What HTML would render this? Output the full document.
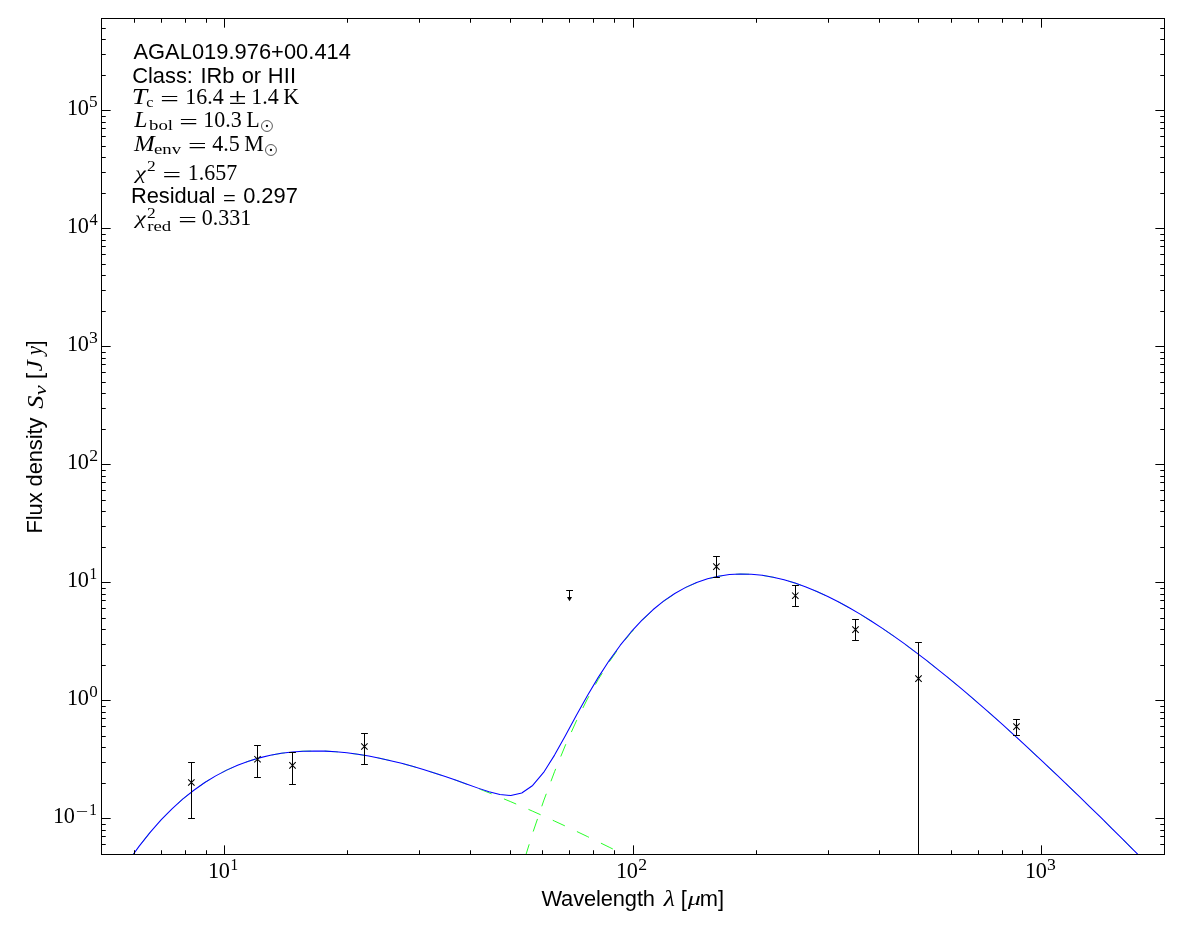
<!DOCTYPE html>
<html lang="en"><head><meta charset="utf-8"><title>AGAL019.976+00.414 SED</title>
<style>
html,body{margin:0;padding:0;background:#fff}
body{width:1200px;height:933px;overflow:hidden}
svg{display:block;will-change:transform}
text{white-space:pre}
.s{font-family:"Liberation Sans",sans-serif}
.r{font-family:"Liberation Serif",serif}
.i{font-family:"Liberation Serif",serif;font-style:italic}
</style></head><body>
<svg width="1200" height="933" viewBox="0 0 1200 933">
<rect width="1200" height="933" fill="#fff"/>
<defs><clipPath id="ax"><rect x="102" y="19" width="1062.5" height="835.5"/></clipPath></defs>
<g clip-path="url(#ax)" fill="none">
<path d="M106.42 896.62L117.35 878.14L128.28 861.34L139.21 846.09L150.14 832.32L161.07 819.93L172.00 808.84L182.93 798.96L193.86 790.22L204.79 782.55L215.72 775.87L226.65 770.13L237.58 765.25L248.51 761.19L259.44 757.88L270.37 755.27L281.30 753.31L292.23 751.96L303.16 751.17L314.09 750.90L325.02 751.11L335.95 751.77L346.88 752.84L357.81 754.29L368.74 756.09L379.67 758.22L390.60 760.65L401.53 763.35L412.46 766.31L423.39 769.51L434.32 772.93L445.25 776.55L456.18 780.36L467.11 784.34L478.04 788.48L488.97 792.78L499.90 797.20L510.83 801.76L521.76 806.43L532.69 811.22L543.62 816.10L554.55 821.08L565.48 826.15L576.41 831.30L587.34 836.53L598.27 841.83L609.20 847.19L620.13 852.61L631.06 858.10L641.99 863.63L652.92 869.22L663.85 874.85L674.78 880.52L685.71 886.24L696.64 891.99L707.57 897.78L718.50 903.60L729.43 909.45L740.36 915.33L751.29 921.24L762.22 927.17L773.15 933.13L784.08 939.11L795.01 945.11L805.94 951.13L816.87 957.17L827.80 963.22L838.73 969.29L849.66 975.38L860.59 981.48L871.52 987.59L882.45 993.72L893.38 999.85L904.31 1006.00L915.24 1012.16L926.17 1018.33L937.10 1024.50L948.03 1030.69L958.96 1036.88L969.89 1043.08L980.82 1049.29L991.75 1055.50L1002.68 1061.72L1013.61 1067.95L1024.54 1074.18L1035.47 1080.42L1046.40 1086.66L1057.33 1092.90L1068.26 1099.15" stroke="#00ff00" stroke-width="0.85" stroke-dasharray="13.3 13.35" stroke-dashoffset="15.16"/>
<path d="M467.11 1095.56L478.04 1042.39L488.97 993.31L499.90 948.05L510.83 906.39L521.76 868.12L532.69 833.04L543.62 800.94L554.55 771.67L565.48 745.03L576.41 720.89L587.34 699.09L598.27 679.48L609.20 661.95L620.13 646.35L631.06 632.59L641.99 620.54L652.92 610.11L663.85 601.19L674.78 593.69L685.71 587.53L696.64 582.62L707.57 578.89L718.50 576.26L729.43 574.65L740.36 574.01L751.29 574.26L762.22 575.36L773.15 577.23L784.08 579.83L795.01 583.10L805.94 587.00L816.87 591.49L827.80 596.51L838.73 602.03L849.66 608.01L860.59 614.43L871.52 621.23L882.45 628.40L893.38 635.91L904.31 643.73L915.24 651.84L926.17 660.22L937.10 668.84L948.03 677.69L958.96 686.74L969.89 696.00L980.82 705.43L991.75 715.03L1002.68 724.78L1013.61 734.68L1024.54 744.71L1035.47 754.86L1046.40 765.12L1057.33 775.49L1068.26 785.96L1079.19 796.52L1090.12 807.16L1101.05 817.88L1111.98 828.68L1122.91 839.54L1133.84 850.47L1144.77 861.45L1155.70 872.50L1166.63 883.59L1177.56 894.73L1188.49 905.91L1199.42 917.14" stroke="#00ff00" stroke-width="0.85" stroke-dasharray="13.3 13.35" stroke-dashoffset="20.82"/>
<path d="M106.42 896.62L117.35 878.14L128.28 861.34L139.21 846.09L150.14 832.32L161.07 819.93L172.00 808.84L182.93 798.96L193.86 790.22L204.79 782.55L215.72 775.87L226.65 770.13L237.58 765.25L248.51 761.19L259.44 757.88L270.37 755.27L281.30 753.31L292.23 751.96L303.16 751.17L314.09 750.90L325.02 751.11L335.95 751.77L346.88 752.84L357.81 754.29L368.74 756.09L379.67 758.22L390.60 760.65L401.53 763.35L412.46 766.31L423.39 769.51L434.32 772.93L445.25 776.54L456.18 780.33L467.11 784.22L478.04 788.12L488.97 791.76L499.90 794.57L510.83 795.51L521.76 792.99L532.69 785.45L543.62 772.44L554.55 755.11L565.48 735.46L576.41 715.27L587.34 695.69L598.27 677.37L609.20 660.58L620.13 645.45L631.06 631.96L641.99 620.10L652.92 609.78L663.85 600.94L674.78 593.50L685.71 587.38L696.64 582.50L707.57 578.79L718.50 576.17L729.43 574.58L740.36 573.94L751.29 574.21L762.22 575.30L773.15 577.18L784.08 579.78L795.01 583.06L805.94 586.96L816.87 591.45L827.80 596.47L838.73 601.99L849.66 607.97L860.59 614.39L871.52 621.19L882.45 628.36L893.38 635.87L904.31 643.69L915.24 651.80L926.17 660.17L937.10 668.79L948.03 677.63L958.96 686.69L969.89 695.94L980.82 705.37L991.75 714.96L1002.68 724.71L1013.61 734.60L1024.54 744.62L1035.47 754.77L1046.40 765.02L1057.33 775.39L1068.26 785.84L1079.19 796.39L1090.12 807.03L1101.05 817.74L1111.98 828.52L1122.91 839.37L1133.84 850.28L1144.77 861.24L1155.70 872.27L1166.63 883.34L1177.56 894.45L1188.49 905.61L1199.42 916.80" stroke="#ffffff" stroke-width="0.7" stroke-linejoin="round"/>
<path d="M106.42 896.62L117.35 878.14L128.28 861.34L139.21 846.09L150.14 832.32L161.07 819.93L172.00 808.84L182.93 798.96L193.86 790.22L204.79 782.55L215.72 775.87L226.65 770.13L237.58 765.25L248.51 761.19L259.44 757.88L270.37 755.27L281.30 753.31L292.23 751.96L303.16 751.17L314.09 750.90L325.02 751.11L335.95 751.77L346.88 752.84L357.81 754.29L368.74 756.09L379.67 758.22L390.60 760.65L401.53 763.35L412.46 766.31L423.39 769.51L434.32 772.93L445.25 776.54L456.18 780.33L467.11 784.22L478.04 788.12L488.97 791.76L499.90 794.57L510.83 795.51L521.76 792.99L532.69 785.45L543.62 772.44L554.55 755.11L565.48 735.46L576.41 715.27L587.34 695.69L598.27 677.37L609.20 660.58L620.13 645.45L631.06 631.96L641.99 620.10L652.92 609.78L663.85 600.94L674.78 593.50L685.71 587.38L696.64 582.50L707.57 578.79L718.50 576.17L729.43 574.58L740.36 573.94L751.29 574.21L762.22 575.30L773.15 577.18L784.08 579.78L795.01 583.06L805.94 586.96L816.87 591.45L827.80 596.47L838.73 601.99L849.66 607.97L860.59 614.39L871.52 621.19L882.45 628.36L893.38 635.87L904.31 643.69L915.24 651.80L926.17 660.17L937.10 668.79L948.03 677.63L958.96 686.69L969.89 695.94L980.82 705.37L991.75 714.96L1002.68 724.71L1013.61 734.60L1024.54 744.62L1035.47 754.77L1046.40 765.02L1057.33 775.39L1068.26 785.84L1079.19 796.39L1090.12 807.03L1101.05 817.74L1111.98 828.52L1122.91 839.37L1133.84 850.28L1144.77 861.24L1155.70 872.27L1166.63 883.34L1177.56 894.45L1188.49 905.61L1199.42 916.80" stroke="#0000ff" stroke-width="1.05" stroke-linejoin="round"/>
</g>
<g stroke="#000" stroke-width="1" fill="none">
<path d="M191.5 762.5V818.5M188.1 762.5H194.9M188.1 818.5H194.9"/>
<path d="M188.15 779.30L194.55 785.70M188.15 785.70L194.55 779.30" stroke-width="1.05"/>
<path d="M257.5 745.5V777.5M254.1 745.5H260.9M254.1 777.5H260.9"/>
<path d="M254.30 756.00L260.70 762.40M254.30 762.40L260.70 756.00" stroke-width="1.05"/>
<path d="M292.5 752.5V784.5M289.1 752.5H295.9M289.1 784.5H295.9"/>
<path d="M289.30 762.15L295.70 768.55M289.30 768.55L295.70 762.15" stroke-width="1.05"/>
<path d="M364.5 733.5V764.5M361.1 733.5H367.9M361.1 764.5H367.9"/>
<path d="M361.20 743.30L367.60 749.70M361.20 749.70L367.60 743.30" stroke-width="1.05"/>
<path d="M716.5 556.5V577.5M713.1 556.5H719.9M713.1 577.5H719.9"/>
<path d="M713.20 563.40L719.60 569.80M713.20 569.80L719.60 563.40" stroke-width="1.05"/>
<path d="M795.5 585.5V606.5M792.1 585.5H798.9M792.1 606.5H798.9"/>
<path d="M792.10 592.50L798.50 598.90M792.10 598.90L798.50 592.50" stroke-width="1.05"/>
<path d="M855.5 619.5V640.5M852.1 619.5H858.9M852.1 640.5H858.9"/>
<path d="M852.30 626.40L858.70 632.80M852.30 632.80L858.70 626.40" stroke-width="1.05"/>
<path d="M918.5 642.5V854M915.1 642.5H921.9"/>
<path d="M915.30 675.40L921.70 681.80M915.30 681.80L921.70 675.40" stroke-width="1.05"/>
<path d="M1016.5 719.5V735.5M1013.1 719.5H1019.9M1013.1 735.5H1019.9"/>
<path d="M1013.30 723.40L1019.70 729.80M1013.30 729.80L1019.70 723.40" stroke-width="1.05"/>
<path d="M569.5 590.5V598M566.2 590.5H573"/>
<path d="M567 597H572L569.5 601.2Z" fill="#000" stroke="none"/>
</g>
<g fill="#000" shape-rendering="crispEdges">
<rect x="101" y="18" width="1064" height="1"/><rect x="101" y="854" width="1064" height="1"/><rect x="101" y="18" width="1" height="837"/><rect x="1164" y="18" width="1" height="837"/>
</g><g fill="#000">
<rect x="102" y="844" width="3.75" height="1"/><rect x="1160.25" y="844" width="3.75" height="1"/>
<rect x="102" y="836" width="3.75" height="1"/><rect x="1160.25" y="836" width="3.75" height="1"/>
<rect x="102" y="830" width="3.75" height="1"/><rect x="1160.25" y="830" width="3.75" height="1"/>
<rect x="102" y="824" width="3.75" height="1"/><rect x="1160.25" y="824" width="3.75" height="1"/>
<rect x="102" y="818" width="8.65" height="1"/><rect x="1155.35" y="818" width="8.65" height="1"/>
<rect x="102" y="783" width="3.75" height="1"/><rect x="1160.25" y="783" width="3.75" height="1"/>
<rect x="102" y="762" width="3.75" height="1"/><rect x="1160.25" y="762" width="3.75" height="1"/>
<rect x="102" y="747" width="3.75" height="1"/><rect x="1160.25" y="747" width="3.75" height="1"/>
<rect x="102" y="736" width="3.75" height="1"/><rect x="1160.25" y="736" width="3.75" height="1"/>
<rect x="102" y="726" width="3.75" height="1"/><rect x="1160.25" y="726" width="3.75" height="1"/>
<rect x="102" y="718" width="3.75" height="1"/><rect x="1160.25" y="718" width="3.75" height="1"/>
<rect x="102" y="712" width="3.75" height="1"/><rect x="1160.25" y="712" width="3.75" height="1"/>
<rect x="102" y="706" width="3.75" height="1"/><rect x="1160.25" y="706" width="3.75" height="1"/>
<rect x="102" y="700" width="8.65" height="1"/><rect x="1155.35" y="700" width="8.65" height="1"/>
<rect x="102" y="665" width="3.75" height="1"/><rect x="1160.25" y="665" width="3.75" height="1"/>
<rect x="102" y="644" width="3.75" height="1"/><rect x="1160.25" y="644" width="3.75" height="1"/>
<rect x="102" y="629" width="3.75" height="1"/><rect x="1160.25" y="629" width="3.75" height="1"/>
<rect x="102" y="618" width="3.75" height="1"/><rect x="1160.25" y="618" width="3.75" height="1"/>
<rect x="102" y="608" width="3.75" height="1"/><rect x="1160.25" y="608" width="3.75" height="1"/>
<rect x="102" y="600" width="3.75" height="1"/><rect x="1160.25" y="600" width="3.75" height="1"/>
<rect x="102" y="594" width="3.75" height="1"/><rect x="1160.25" y="594" width="3.75" height="1"/>
<rect x="102" y="588" width="3.75" height="1"/><rect x="1160.25" y="588" width="3.75" height="1"/>
<rect x="102" y="582" width="8.65" height="1"/><rect x="1155.35" y="582" width="8.65" height="1"/>
<rect x="102" y="547" width="3.75" height="1"/><rect x="1160.25" y="547" width="3.75" height="1"/>
<rect x="102" y="526" width="3.75" height="1"/><rect x="1160.25" y="526" width="3.75" height="1"/>
<rect x="102" y="511" width="3.75" height="1"/><rect x="1160.25" y="511" width="3.75" height="1"/>
<rect x="102" y="500" width="3.75" height="1"/><rect x="1160.25" y="500" width="3.75" height="1"/>
<rect x="102" y="490" width="3.75" height="1"/><rect x="1160.25" y="490" width="3.75" height="1"/>
<rect x="102" y="482" width="3.75" height="1"/><rect x="1160.25" y="482" width="3.75" height="1"/>
<rect x="102" y="476" width="3.75" height="1"/><rect x="1160.25" y="476" width="3.75" height="1"/>
<rect x="102" y="470" width="3.75" height="1"/><rect x="1160.25" y="470" width="3.75" height="1"/>
<rect x="102" y="464" width="8.65" height="1"/><rect x="1155.35" y="464" width="8.65" height="1"/>
<rect x="102" y="429" width="3.75" height="1"/><rect x="1160.25" y="429" width="3.75" height="1"/>
<rect x="102" y="408" width="3.75" height="1"/><rect x="1160.25" y="408" width="3.75" height="1"/>
<rect x="102" y="393" width="3.75" height="1"/><rect x="1160.25" y="393" width="3.75" height="1"/>
<rect x="102" y="382" width="3.75" height="1"/><rect x="1160.25" y="382" width="3.75" height="1"/>
<rect x="102" y="372" width="3.75" height="1"/><rect x="1160.25" y="372" width="3.75" height="1"/>
<rect x="102" y="364" width="3.75" height="1"/><rect x="1160.25" y="364" width="3.75" height="1"/>
<rect x="102" y="358" width="3.75" height="1"/><rect x="1160.25" y="358" width="3.75" height="1"/>
<rect x="102" y="352" width="3.75" height="1"/><rect x="1160.25" y="352" width="3.75" height="1"/>
<rect x="102" y="346" width="8.65" height="1"/><rect x="1155.35" y="346" width="8.65" height="1"/>
<rect x="102" y="311" width="3.75" height="1"/><rect x="1160.25" y="311" width="3.75" height="1"/>
<rect x="102" y="290" width="3.75" height="1"/><rect x="1160.25" y="290" width="3.75" height="1"/>
<rect x="102" y="275" width="3.75" height="1"/><rect x="1160.25" y="275" width="3.75" height="1"/>
<rect x="102" y="264" width="3.75" height="1"/><rect x="1160.25" y="264" width="3.75" height="1"/>
<rect x="102" y="254" width="3.75" height="1"/><rect x="1160.25" y="254" width="3.75" height="1"/>
<rect x="102" y="246" width="3.75" height="1"/><rect x="1160.25" y="246" width="3.75" height="1"/>
<rect x="102" y="240" width="3.75" height="1"/><rect x="1160.25" y="240" width="3.75" height="1"/>
<rect x="102" y="234" width="3.75" height="1"/><rect x="1160.25" y="234" width="3.75" height="1"/>
<rect x="102" y="228" width="8.65" height="1"/><rect x="1155.35" y="228" width="8.65" height="1"/>
<rect x="102" y="193" width="3.75" height="1"/><rect x="1160.25" y="193" width="3.75" height="1"/>
<rect x="102" y="172" width="3.75" height="1"/><rect x="1160.25" y="172" width="3.75" height="1"/>
<rect x="102" y="157" width="3.75" height="1"/><rect x="1160.25" y="157" width="3.75" height="1"/>
<rect x="102" y="146" width="3.75" height="1"/><rect x="1160.25" y="146" width="3.75" height="1"/>
<rect x="102" y="136" width="3.75" height="1"/><rect x="1160.25" y="136" width="3.75" height="1"/>
<rect x="102" y="128" width="3.75" height="1"/><rect x="1160.25" y="128" width="3.75" height="1"/>
<rect x="102" y="122" width="3.75" height="1"/><rect x="1160.25" y="122" width="3.75" height="1"/>
<rect x="102" y="116" width="3.75" height="1"/><rect x="1160.25" y="116" width="3.75" height="1"/>
<rect x="102" y="110" width="8.65" height="1"/><rect x="1155.35" y="110" width="8.65" height="1"/>
<rect x="102" y="75" width="3.75" height="1"/><rect x="1160.25" y="75" width="3.75" height="1"/>
<rect x="102" y="54" width="3.75" height="1"/><rect x="1160.25" y="54" width="3.75" height="1"/>
<rect x="102" y="39" width="3.75" height="1"/><rect x="1160.25" y="39" width="3.75" height="1"/>
<rect x="102" y="28" width="3.75" height="1"/><rect x="1160.25" y="28" width="3.75" height="1"/>
<rect x="134" y="850.25" width="1" height="3.75"/><rect x="134" y="19" width="1" height="3.75"/>
<rect x="161" y="850.25" width="1" height="3.75"/><rect x="161" y="19" width="1" height="3.75"/>
<rect x="185" y="850.25" width="1" height="3.75"/><rect x="185" y="19" width="1" height="3.75"/>
<rect x="206" y="850.25" width="1" height="3.75"/><rect x="206" y="19" width="1" height="3.75"/>
<rect x="224" y="845.35" width="1" height="8.65"/><rect x="224" y="19" width="1" height="8.65"/>
<rect x="347" y="850.25" width="1" height="3.75"/><rect x="347" y="19" width="1" height="3.75"/>
<rect x="419" y="850.25" width="1" height="3.75"/><rect x="419" y="19" width="1" height="3.75"/>
<rect x="470" y="850.25" width="1" height="3.75"/><rect x="470" y="19" width="1" height="3.75"/>
<rect x="510" y="850.25" width="1" height="3.75"/><rect x="510" y="19" width="1" height="3.75"/>
<rect x="542" y="850.25" width="1" height="3.75"/><rect x="542" y="19" width="1" height="3.75"/>
<rect x="569" y="850.25" width="1" height="3.75"/><rect x="569" y="19" width="1" height="3.75"/>
<rect x="593" y="850.25" width="1" height="3.75"/><rect x="593" y="19" width="1" height="3.75"/>
<rect x="614" y="850.25" width="1" height="3.75"/><rect x="614" y="19" width="1" height="3.75"/>
<rect x="633" y="845.35" width="1" height="8.65"/><rect x="633" y="19" width="1" height="8.65"/>
<rect x="756" y="850.25" width="1" height="3.75"/><rect x="756" y="19" width="1" height="3.75"/>
<rect x="828" y="850.25" width="1" height="3.75"/><rect x="828" y="19" width="1" height="3.75"/>
<rect x="879" y="850.25" width="1" height="3.75"/><rect x="879" y="19" width="1" height="3.75"/>
<rect x="918" y="850.25" width="1" height="3.75"/><rect x="918" y="19" width="1" height="3.75"/>
<rect x="951" y="850.25" width="1" height="3.75"/><rect x="951" y="19" width="1" height="3.75"/>
<rect x="978" y="850.25" width="1" height="3.75"/><rect x="978" y="19" width="1" height="3.75"/>
<rect x="1002" y="850.25" width="1" height="3.75"/><rect x="1002" y="19" width="1" height="3.75"/>
<rect x="1022" y="850.25" width="1" height="3.75"/><rect x="1022" y="19" width="1" height="3.75"/>
<rect x="1041" y="845.35" width="1" height="8.65"/><rect x="1041" y="19" width="1" height="8.65"/>
</g>
<g fill="#000">
<text class="r" font-size="22.3" x="52.99" y="822.90" letter-spacing="-0.5">10</text>
<text class="r" font-size="15.6" transform="translate(75.65,817.10) scale(1.412,1.000)">−</text>
<text class="r" font-size="15.6" transform="translate(89.35,815.10) scale(0.983,1.120)">1</text>
<text class="r" font-size="22.3" x="67.04" y="704.90" letter-spacing="-0.5">10</text>
<text class="r" font-size="15.6" transform="translate(89.30,697.10) scale(1.089,1.120)">0</text>
<text class="r" font-size="22.3" x="67.04" y="586.90" letter-spacing="-0.5">10</text>
<text class="r" font-size="15.6" transform="translate(89.50,579.10) scale(0.983,1.120)">1</text>
<text class="r" font-size="22.3" x="67.04" y="468.90" letter-spacing="-0.5">10</text>
<text class="r" font-size="15.6" transform="translate(89.22,461.10) scale(1.135,1.120)">2</text>
<text class="r" font-size="22.3" x="67.04" y="350.90" letter-spacing="-0.5">10</text>
<text class="r" font-size="15.6" transform="translate(89.05,343.10) scale(1.133,1.120)">3</text>
<text class="r" font-size="22.3" x="67.04" y="232.90" letter-spacing="-0.5">10</text>
<text class="r" font-size="15.6" transform="translate(89.43,225.10) scale(1.048,1.120)">4</text>
<text class="r" font-size="22.3" x="67.04" y="114.90" letter-spacing="-0.5">10</text>
<text class="r" font-size="15.6" transform="translate(89.07,107.10) scale(1.106,1.120)">5</text>
<text class="r" font-size="22.3" x="208.04" y="877.80" letter-spacing="-0.5">10</text>
<text class="r" font-size="15.6" transform="translate(230.52,870.00) scale(0.983,1.120)">1</text>
<text class="r" font-size="22.3" x="616.04" y="877.80" letter-spacing="-0.5">10</text>
<text class="r" font-size="15.6" transform="translate(638.24,870.00) scale(1.135,1.120)">2</text>
<text class="r" font-size="22.3" x="1025.04" y="877.80" letter-spacing="-0.5">10</text>
<text class="r" font-size="15.6" transform="translate(1047.07,870.00) scale(1.133,1.120)">3</text>
</g>
<g fill="#000">
<text class="s" font-size="21.875" x="541.40" y="905.80" letter-spacing="-0.11">Wavelength </text>
<text class="i" font-size="22.8" transform="translate(663.63,905.90) scale(1.135,1.000)">λ </text>
<text class="s" font-size="21.875" x="680.64" y="905.80">[</text>
<text class="i" font-size="19.8" transform="translate(687.63,905.10) scale(1.312,1.000)">μ</text>
<text class="s" font-size="21.875" x="699.75" y="905.80">m]</text>
<g transform="translate(41.7,531.8) rotate(-90)">
<text class="s" font-size="21.875" x="-1.79" y="0.00" letter-spacing="-0.05">Flux density </text>
<text class="i" font-size="23.4" transform="translate(123.09,1.40) scale(1.131,1.000)">S</text>
<text class="i" font-size="17" transform="translate(136.59,3.90) scale(1.313,1.000)">ν </text>
<text class="s" font-size="21.875" x="152.74" y="0.00">[</text>
<text class="i" font-size="23" transform="translate(160.21,0.60) scale(1.115,1.000)">J</text>
<text class="i" font-size="23" transform="translate(176.68,0.60) scale(0.873,1.000)">y</text>
<text class="s" font-size="21.875" x="185.28" y="0.00">]</text>
</g></g>
<g fill="#000">
<text class="s" font-size="21.875" x="133.46" y="59.00" letter-spacing="0.03">AGAL019.976+00.414</text>
<text class="s" font-size="21.875" x="132.19" y="82.80">Class: </text>
<text class="s" font-size="21.875" x="200.38" y="82.80">IRb </text>
<text class="s" font-size="21.875" x="241.68" y="82.80">or </text>
<text class="s" font-size="21.875" x="267.71" y="82.80" letter-spacing="0.25">HII</text>
<text class="i" font-size="22.0" transform="translate(131.80,104.10) scale(1.250,1.050)">T</text>
<text class="r" font-size="15.4" transform="translate(146.28,106.80) scale(1.050,1.000)">c </text>
<text class="r" font-size="22.0" transform="translate(160.26,106.10) scale(1.500,1.000)">= </text>
<text class="r" font-size="22.0" transform="translate(185.37,104.10) scale(1.000,1.050)">16.4 </text>
<text class="r" font-size="22.0" transform="translate(228.67,104.10) scale(1.460,1.050)">± </text>
<text class="r" font-size="22.0" transform="translate(251.37,104.10) scale(1.000,1.050)">1.4 </text>
<text class="r" font-size="22.0" transform="translate(283.17,104.10) scale(1.000,1.050)">K</text>
<text class="i" font-size="22.0" transform="translate(134.28,127.00) scale(1.080,1.050)">L</text>
<text class="r" font-size="15.4" transform="translate(149.10,129.50) scale(1.220,1.000)">bol </text>
<text class="r" font-size="22.0" transform="translate(179.36,129.00) scale(1.500,1.000)">= </text>
<text class="r" font-size="22.0" transform="translate(203.27,127.00) scale(1.000,1.050)">10.3 </text>
<text class="r" font-size="22.0" transform="translate(246.37,127.00) scale(1.000,1.050)">L</text>
<circle cx="266.95" cy="126.0" r="5.45" fill="none" stroke="#000" stroke-width="0.65"/><circle cx="266.95" cy="126.0" r="1.15"/>
<text class="i" font-size="22.0" transform="translate(134.04,151.00) scale(1.130,1.050)">M</text>
<text class="r" font-size="15.4" transform="translate(154.02,153.70) scale(1.220,1.000)">env </text>
<text class="r" font-size="22.0" transform="translate(187.96,153.00) scale(1.500,1.000)">= </text>
<text class="r" font-size="22.0" transform="translate(212.37,151.00) scale(1.000,1.050)">4.5 </text>
<text class="r" font-size="22.0" transform="translate(244.27,151.00) scale(1.000,1.050)">M</text>
<circle cx="270.95" cy="150.0" r="5.45" fill="none" stroke="#000" stroke-width="0.65"/><circle cx="270.95" cy="150.0" r="1.15"/>
<text class="r" font-size="18.4" transform="translate(134.62,179.00) skewX(-10) scale(1.308,1.000)">χ</text>
<text class="r" font-size="15.4" transform="translate(146.94,171.20) scale(1.130,1.000)">2 </text>
<text class="r" font-size="22.0" transform="translate(162.46,181.60) scale(1.500,1.000)">= </text>
<text class="r" font-size="22.0" transform="translate(187.87,179.60) scale(1.000,1.050)">1.657</text>
<text class="s" font-size="21.875" x="131.11" y="202.50" letter-spacing="-0.1">Residual </text>
<text class="s" font-size="21.875" transform="translate(222.93,203.70) scale(1.000,0.800)">= </text>
<text class="s" font-size="21.875" x="243.15" y="202.50">0.297</text>
<text class="r" font-size="18.4" transform="translate(134.62,224.40) skewX(-10) scale(1.308,1.000)">χ</text>
<text class="r" font-size="15.4" transform="translate(146.94,218.20) scale(1.130,1.000)">2</text>
<text class="r" font-size="15.4" transform="translate(147.22,230.90) scale(1.220,1.000)">red </text>
<text class="r" font-size="22.0" transform="translate(178.16,227.00) scale(1.500,1.000)">= </text>
<text class="r" font-size="22.0" transform="translate(201.76,225.00) scale(1.000,1.050)">0.331</text>
</g>
</svg>
</body></html>
